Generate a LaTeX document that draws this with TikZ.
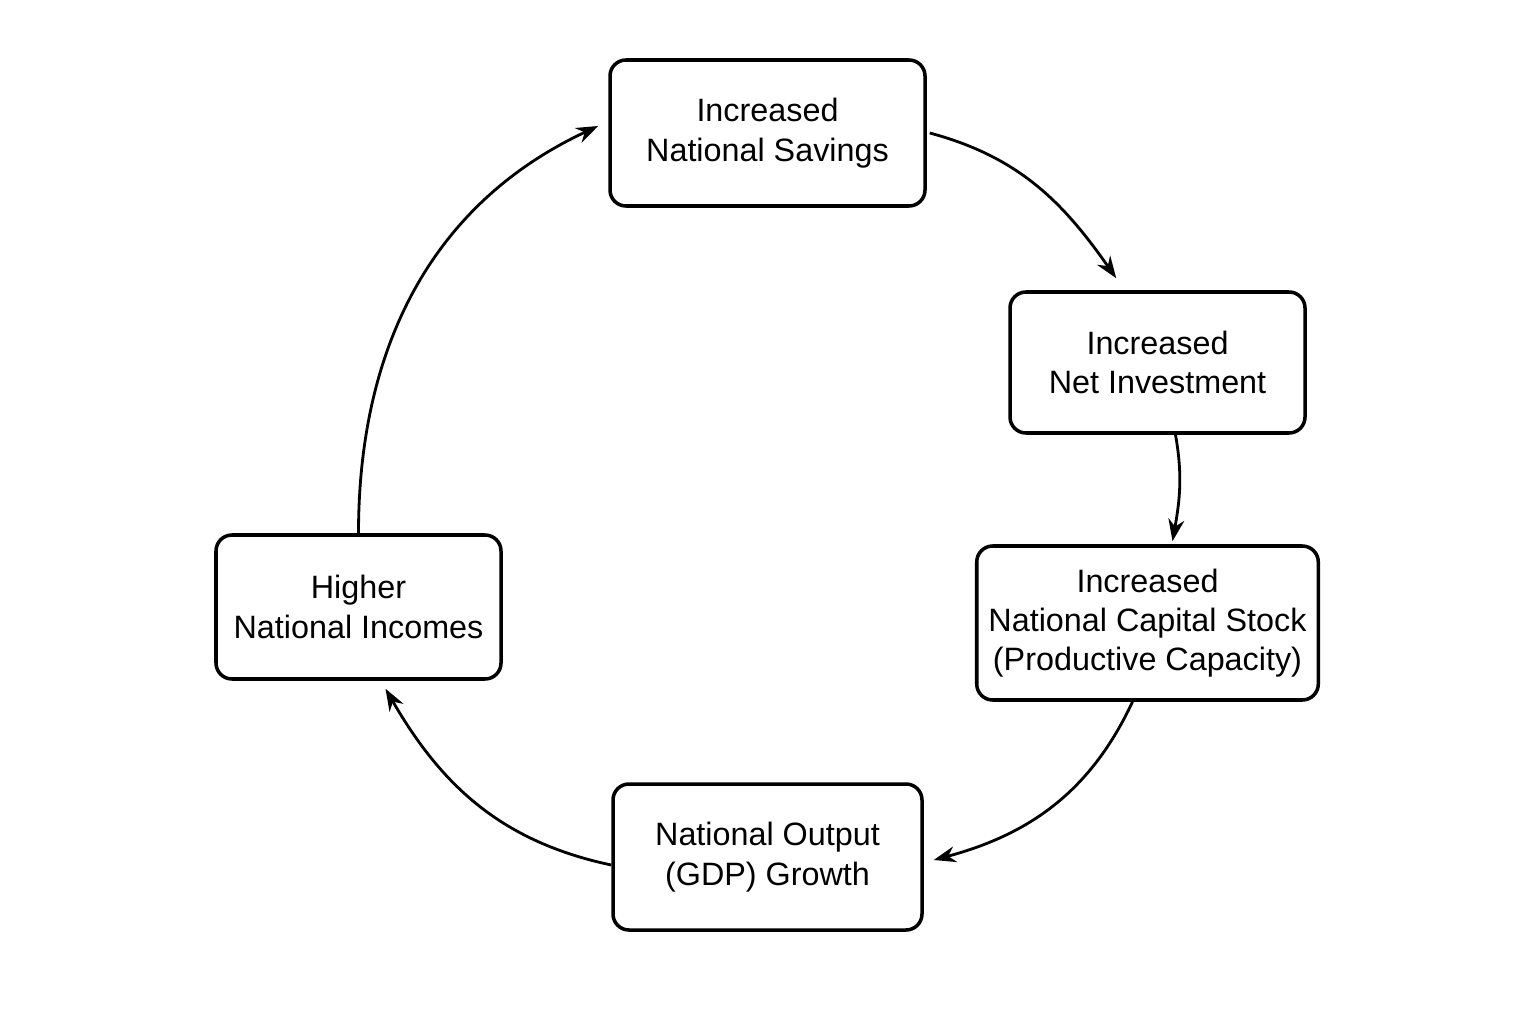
\documentclass[tikz,border=0pt]{standalone}
\usepackage{fontspec}
\setmainfont{Liberation Sans}
\usetikzlibrary{arrows.meta,positioning,calc}

\begin{document}
\begin{tikzpicture}[
    stage/.style={draw, line width=1pt, rounded corners=0.16cm, align=center,
      font=\fontsize{9.2}{11.2}\selectfont},
    flow/.style={-{Stealth[length=0.22cm,width=0.16cm]}, line width=0.8pt}
  ]
    \useasboundingbox (0,0) rectangle (15.36,10.24);

    % Stages of the cycle
    \node[stage, minimum width=3.15cm, minimum height=1.46cm] (sav) at (7.675,8.91) {Increased\\National Savings};
    \node[stage, minimum width=2.95cm, minimum height=1.41cm] (inv) at (11.575,6.615) {Increased\\Net Investment};
    \node[stage, minimum width=3.31cm, minimum height=1.54cm] (cap) at (11.475,4.01) {Increased\\National Capital Stock\\(Productive Capacity)};
    \node[stage, minimum width=3.09cm, minimum height=1.46cm] (gdp) at (7.675,1.67) {National Output\\(GDP) Growth};
    \node[stage, minimum width=2.85cm, minimum height=1.44cm] (inc) at (3.585,4.17) {Higher\\National Incomes};

    % Arrow end points
    \coordinate (invin) at ($(inv.north west)+(1.08,0.12)$);
    \coordinate (savin) at ($(sav.west)+(-0.1,0.07)$);
    \coordinate (incin) at ($(inc.south)+(0.27,-0.08)$);
    \coordinate (gdpin) at ($(gdp.east)+(0.1,-0.03)$);

    % Connectors
    \draw[flow] ($(sav.east)+(0.03,0)$) to[out=-15,in=125] (invin);
    \draw[flow] ($(inv.south)+(0.18,0)$) to[out=-80,in=80] ($(cap.north)+(0.25,0.03)$);
    \draw[flow] ($(cap.south)+(-0.15,0)$) to[out=-115,in=15] (gdpin);
    \draw[flow] ($(gdp.west)+(0,-0.08)$) to[out=168,in=-60] (incin);
    \draw[flow] (inc.north) to[out=90,in=205] (savin);
\end{tikzpicture}
\end{document}
